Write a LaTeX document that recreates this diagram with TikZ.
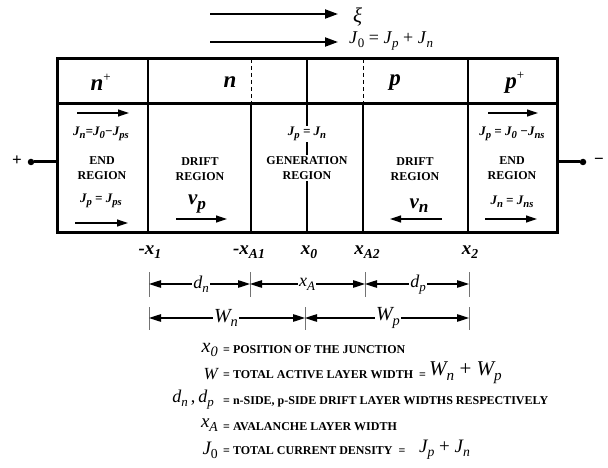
\documentclass[tikz,border=0pt]{standalone}
\usepackage{fontspec}
\setmainfont{Liberation Serif}
\usetikzlibrary{arrows.meta}
\newcommand\sbs[1]{\raisebox{-0.22em}{\scalebox{0.72}{#1}}}
\newcommand\bsb[1]{\raisebox{-0.2em}{\scalebox{0.82}{#1}}}
\newcommand\fs[1]{\fontsize{#1}{#1}\selectfont}
\begin{document}
\begin{tikzpicture}[x=1pt,y=-1pt,
  bigarrow/.style={line width=2pt,-{Triangle[length=13pt,width=9pt]}},
  smallarrow/.style={line width=1.2pt,-{Triangle[length=11pt,width=7pt]}},
  dimarrow/.style={line width=1.1pt,{Triangle[length=12pt,width=7.5pt]}-{Triangle[length=12pt,width=7.5pt]}},
  dimtick/.style={line width=1pt,draw=black!55},
  dimlabel/.style={fill=white,inner sep=1.5pt,font=\fs{18}\itshape},
  region/.style={align=center,inner sep=1pt,font=\fontsize{12}{15}\selectfont\bfseries},
  eqn/.style={inner sep=1pt,font=\fs{13}\bfseries\itshape},
  layer/.style={font=\fs{23}\bfseries\itshape},
  poslabel/.style={font=\fs{19}\bfseries\itshape},
  legsym/.style={anchor=east,inner sep=0pt},
  legtext/.style={anchor=west,inner sep=0pt,font=\fs{12}\bfseries},
]
\useasboundingbox (0,0) rectangle (608,468);

% top arrows
\coordinate (xis) at (210,14); \coordinate (xie) at (338,14);
\coordinate (jzs) at (210,42); \coordinate (jze) at (338,42);
\draw[bigarrow] (xis) -- (xie);
\draw[bigarrow] (jzs) -- (jze);
\node[anchor=west,inner sep=0pt] (xi) at (353,17) {\fs{21}\itshape ξ};
\node[anchor=west,inner sep=0pt] (jtot) at (349,41) {\fs{18}\textit{J}\sbs{0} = \textit{J}\sbs{\textit{p}} + \textit{J}\sbs{\textit{n}}};

% box
\coordinate (tl) at (57,59); \coordinate (br) at (557,232);
\coordinate (ml) at (57,104); \coordinate (mr) at (557,104);
\draw[line width=2pt] (148,59) -- (148,232);
\draw[line width=2pt] (468,59) -- (468,232);
\draw[line width=1.5pt] (307,59) -- (307,232);
\draw[line width=0.8pt,dash pattern=on 4pt off 3pt] (251,59) -- (251,104);
\draw[line width=0.8pt,dash pattern=on 4pt off 3pt] (363,59) -- (363,104);
\draw[line width=1.5pt] (251,104) -- (251,232);
\draw[line width=1.5pt] (363,104) -- (363,232);
\draw[line width=3pt] (tl) rectangle (br);
\draw[line width=3pt] (ml) -- (mr);

% layer labels
\node[layer] (nplus) at (101,82) {n\textsuperscript{\normalfont\fs{13}+}};
\node[layer] (nlay) at (230,82) {n};
\node[layer] (play) at (395,83) {p};
\node[layer] (pplus) at (515,83) {p\textsuperscript{\normalfont\fs{13}+}};

% left end region
\coordinate (la1s) at (77,113); \coordinate (la1e) at (129,113);
\draw[smallarrow] (la1s) -- (la1e);
\node[eqn] (jnl) at (101,134) {J\bsb{n}=J\bsb{0}−J\bsb{ps}};
\node[region] (endl) at (102,168) {END\\REGION};
\node[eqn] (jpl) at (101,201) {J\bsb{p} = J\bsb{ps}};
\coordinate (la2s) at (75,223); \coordinate (la2e) at (128,223);
\draw[smallarrow] (la2s) -- (la2e);

% left drift
\node[region] (driftl) at (200,169) {DRIFT\\REGION};
\node[inner sep=0pt,font=\fs{21}\bfseries\itshape] (vp) at (197,204) {v\bsb{p}};
\coordinate (vps) at (176,219); \coordinate (vpe) at (227,219);
\draw[smallarrow] (vps) -- (vpe);

% generation
\node[eqn,fill=white] (jpn) at (307,134) {J\bsb{p} = J\bsb{n}};
\node[region,fill=white] (gen) at (307,168) {GENERATION\\REGION};

% right drift
\node[region] (driftr) at (415,169) {DRIFT\\REGION};
\node[inner sep=0pt,font=\fs{21}\bfseries\itshape] (vn) at (419,206) {v\bsb{n}};
\coordinate (vns) at (442,219); \coordinate (vne) at (390,219);
\draw[smallarrow] (vns) -- (vne);

% right end region
\coordinate (ra1s) at (488,113); \coordinate (ra1e) at (538,113);
\draw[smallarrow] (ra1s) -- (ra1e);
\node[eqn] (jpr) at (512,134) {J\bsb{p} = J\bsb{0} −J\bsb{ns}};
\node[region] (endr) at (512,168) {END\\REGION};
\node[eqn] (jnr) at (512,202) {J\bsb{n} = J\bsb{ns}};
\coordinate (ra2s) at (485,219); \coordinate (ra2e) at (537,219);
\draw[smallarrow] (ra2s) -- (ra2e);

% terminals
\coordinate (lt) at (57,162); \coordinate (rt) at (557,162);
\node[circle,fill=black,inner sep=0pt,minimum size=6.5pt] (ldot) at (31,162) {};
\node[circle,fill=black,inner sep=0pt,minimum size=6.5pt] (rdot) at (583,162) {};
\draw[line width=3pt] (ldot) -- (lt);
\draw[line width=3pt] (rt) -- (rdot);
\node[font=\fs{17}\bfseries,inner sep=0pt] (plus) at (17,161) {+};
\node[font=\fs{17}\bfseries,inner sep=0pt] (minus) at (599,161) {−};

% position labels
\node[poslabel] (px1) at (150,252) {-x\sbs{1}};
\node[poslabel] (pxa1) at (249,252) {-x\sbs{A1}};
\node[poslabel] (px0) at (309,252) {x\sbs{0}};
\node[poslabel] (pxa2) at (367,252) {x\sbs{A2}};
\node[poslabel] (px2) at (470,252) {x\sbs{2}};

% dimension row 1
\coordinate (d1a) at (149,284); \coordinate (d1b) at (250,284);
\coordinate (d1c) at (365,284); \coordinate (d1d) at (469,284);
\draw[dimtick] (149,272) -- (149,297);
\draw[dimtick] (250,272) -- (250,297);
\draw[dimtick] (365,272) -- (365,297);
\draw[dimtick] (469,272) -- (469,297);
\draw[dimarrow] (d1a) -- (d1b);
\draw[dimarrow] (d1b) -- (d1c);
\draw[dimarrow] (d1c) -- (d1d);
\node[dimlabel] (ldn) at (201,284) {d\sbs{n}};
\node[dimlabel] (lxa) at (307,284) {x\sbs{A}};
\node[dimlabel] (ldp) at (418,285) {d\sbs{p}};

% dimension row 2
\coordinate (d2a) at (149,318); \coordinate (d2b) at (305,318); \coordinate (d2c) at (469,318);
\draw[dimtick] (149,307) -- (149,330);
\draw[dimtick] (305,307) -- (305,330);
\draw[dimtick] (469,307) -- (469,330);
\draw[dimarrow] (d2a) -- (d2b);
\draw[dimarrow] (d2b) -- (d2c);
\node[dimlabel,font=\fs{20}\itshape] (lwn) at (226,318) {W\sbs{n}};
\node[dimlabel,font=\fs{20}\itshape] (lwp) at (388,318) {W\sbs{p}};

% legend
\node[legsym,font=\fs{20}\itshape] (s1) at (218,350) {x\sbs{0}};
\node[legtext] (t1) at (223,350) {= POSITION OF THE JUNCTION};
\node[legsym,font=\fs{17}\itshape] (s2) at (218,374) {W};
\node[legtext] (t2) at (223,375) {= TOTAL ACTIVE LAYER WIDTH \ =};
\node[anchor=west,inner sep=0pt,font=\fs{21}\itshape] (t2b) at (429,373) {W\sbs{n} {\upshape+} W\sbs{p}};
\node[legsym,font=\fs{18}\itshape] (s3) at (214,400) {d\sbs{n}\,{\upshape,}\,d\sbs{p}};
\node[legtext] (t3) at (223,402) {= n-SIDE, p-SIDE DRIFT LAYER WIDTHS RESPECTIVELY};
\node[legsym,font=\fs{19}\itshape] (s4) at (218,425) {x\sbs{A}};
\node[legtext] (t4) at (223,427) {= AVALANCHE LAYER WIDTH};
\node[legsym,font=\fs{19}\itshape] (s5) at (218,450) {J\sbs{\upshape 0}};
\node[legtext] (t5) at (223,451) {= TOTAL CURRENT DENSITY \ =};
\node[anchor=west,inner sep=0pt,font=\fs{19}\itshape] (t5b) at (419,450) {J\sbs{p} {\upshape+} J\sbs{n}};
\end{tikzpicture}
\end{document}
